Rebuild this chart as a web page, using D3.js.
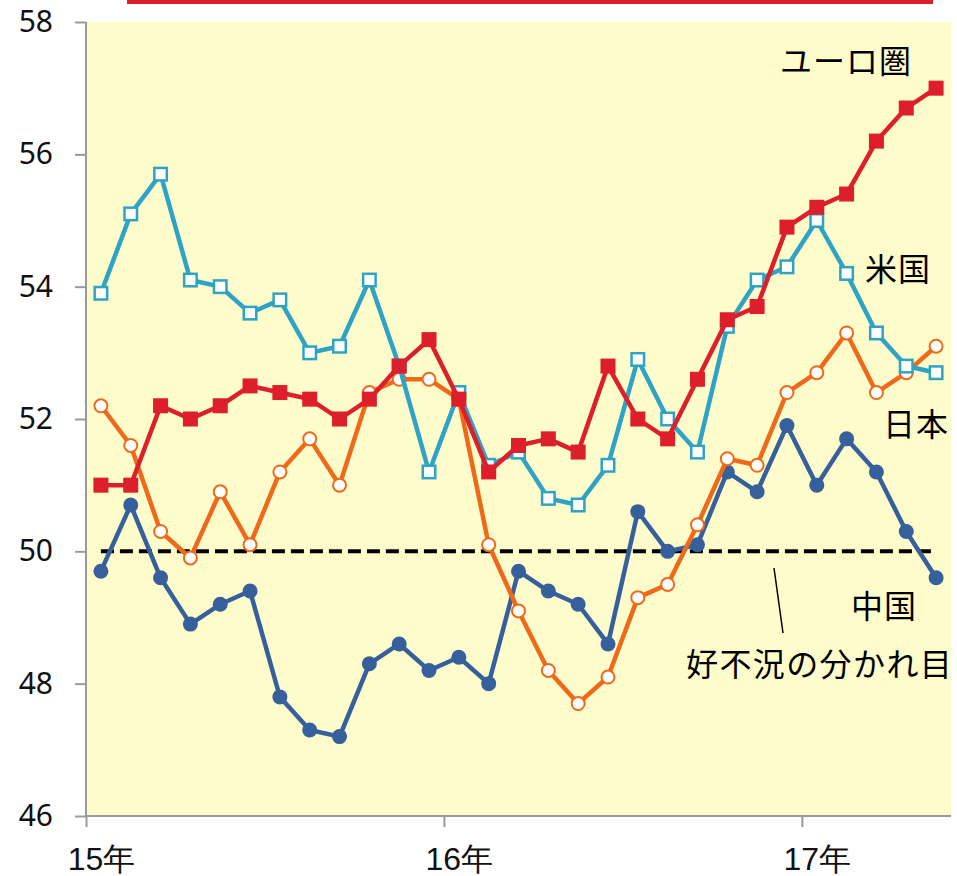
<!DOCTYPE html>
<html><head><meta charset="utf-8">
<script src="https://cdn.jsdelivr.net/npm/d3@7"></script>
<style>
body{margin:0;background:#fff;}
svg{display:block;font-family:"Noto Sans","Noto Sans CJK JP",sans-serif;}
</style></head>
<body>
<svg id="chart" width="957" height="876"></svg>
<script>
const months = ["15/1","15/2","15/3","15/4","15/5","15/6","15/7","15/8","15/9","15/10","15/11","15/12",
"16/1","16/2","16/3","16/4","16/5","16/6","16/7","16/8","16/9","16/10","16/11","16/12",
"17/1","17/2","17/3","17/4","17/5"];
const euro  = [51.0,51.0,52.2,52.0,52.2,52.5,52.4,52.3,52.0,52.3,52.8,53.2,52.3,51.2,51.6,51.7,51.5,52.8,52.0,51.7,52.6,53.5,53.7,54.9,55.2,55.4,56.2,56.7,57.0];
const usa   = [53.9,55.1,55.7,54.1,54.0,53.6,53.8,53.0,53.1,54.1,52.8,51.2,52.4,51.3,51.5,50.8,50.7,51.3,52.9,52.0,51.5,53.4,54.1,54.3,55.0,54.2,53.3,52.8,52.7];
const japan = [52.2,51.6,50.3,49.9,50.9,50.1,51.2,51.7,51.0,52.4,52.6,52.6,52.3,50.1,49.1,48.2,47.7,48.1,49.3,49.5,50.4,51.4,51.3,52.4,52.7,53.3,52.4,52.7,53.1];
const china = [49.7,50.7,49.6,48.9,49.2,49.4,47.8,47.3,47.2,48.3,48.6,48.2,48.4,48.0,49.7,49.4,49.2,48.6,50.6,50.0,50.1,51.2,50.9,51.9,51.0,51.7,51.2,50.3,49.6];
const yTicks = [46,48,50,52,54,56,58];
const yearTickIdx = [0,12,24];
const yearLabels = ["15年","16年","17年"];
const threshold = 50;
const seriesNames = ["ユーロ圏","米国","日本","中国"];
const thresholdLabel = "好不況の分かれ目";

const svg = d3.select("#chart");
const L = 86, T = 22, R = 951, B = 816;

const x = d3.scaleLinear().domain([0, months.length]).range([L, R]);
const bw = x(1) - x(0);
const xc = i => x(i + 0.5);
const y = d3.scaleLinear().domain([46, 58]).range([B, T]);

// top red bar
svg.append("rect").attr("x",127).attr("y",0).attr("width",806).attr("height",4).attr("fill","#dc1f2b");

// plot background
svg.append("rect").attr("x",L).attr("y",T).attr("width",R-L).attr("height",B-T).attr("fill","#fffccc");

// y axis
const yAxis = svg.append("g").attr("transform",`translate(${L},0)`)
  .call(d3.axisLeft(y).tickValues(yTicks).tickSize(11).tickPadding(22).tickFormat(d3.format("d")));
yAxis.select(".domain").attr("stroke","#9a9a9a").attr("stroke-width",2).attr("d",`M0,${T}V${B}`);
yAxis.selectAll(".tick line").attr("stroke","#9a9a9a").attr("stroke-width",2);
yAxis.selectAll(".tick text").attr("font-size",30).attr("fill","#111").attr("font-family","Noto Sans");

// x axis
const xAxis = svg.append("g").attr("transform",`translate(0,${B})`)
  .call(d3.axisBottom(x).tickValues(yearTickIdx).tickSize(11).tickPadding(20)
    .tickFormat((d,i)=>yearLabels[i]));
xAxis.select(".domain").attr("stroke","#9a9a9a").attr("stroke-width",2).attr("d",`M${L},0H${R}`);
xAxis.selectAll(".tick line").attr("stroke","#9a9a9a").attr("stroke-width",2);
xAxis.selectAll(".tick text").attr("font-size",32).attr("fill","#111").attr("x", bw/2);

// threshold dashed line
svg.append("line").attr("x1",xc(0)).attr("x2",xc(months.length-1))
  .attr("y1",y(threshold)).attr("y2",y(threshold))
  .attr("stroke","#000").attr("stroke-width",4).attr("stroke-dasharray","13,6");

const line = d3.line().x((d,i)=>xc(i)).y(d=>y(d));

function drawSeries(data, color, marker, filled){
  const g = svg.append("g");
  g.append("path").datum(data).attr("d",line).attr("fill","none")
    .attr("stroke",color).attr("stroke-width",4.5).attr("stroke-linejoin","round");
  if(marker==="square"){
    const s = filled ? 15 : 12.5;
    g.selectAll("rect").data(data).join("rect")
      .attr("x",(d,i)=>xc(i)-s/2).attr("y",d=>y(d)-s/2)
      .attr("width",s).attr("height",s)
      .attr("fill",filled?color:"#fff").attr("stroke",filled?"none":color).attr("stroke-width",2.5);
  } else {
    g.selectAll("circle").data(data).join("circle")
      .attr("cx",(d,i)=>xc(i)).attr("cy",d=>y(d))
      .attr("r",filled?7.5:6.5)
      .attr("fill",filled?color:"#fff").attr("stroke",filled?"none":color).attr("stroke-width",2);
  }
}
drawSeries(china, "#36609b", "circle", true);
drawSeries(japan, "#ee6a1a", "circle", false);
drawSeries(usa,   "#2fa3c5", "square", false);
drawSeries(euro,  "#dc1f2b", "square", true);

// labels
const labelPos = [[780,73],[865,281],[883,436],[851,618]];
seriesNames.forEach((n,i)=>{
  svg.append("text").attr("x",labelPos[i][0]).attr("y",labelPos[i][1])
    .attr("font-size",32).attr("letter-spacing",1).attr("fill","#000")
    .attr("font-family","Noto Sans CJK JP").text(n);
});
svg.append("text").attr("x",686).attr("y",676).attr("font-size",32).attr("letter-spacing",1.4)
  .attr("fill","#000").attr("font-family","Noto Sans CJK JP").text(thresholdLabel);
svg.append("line").attr("x1",774).attr("y1",568).attr("x2",783).attr("y2",633)
  .attr("stroke","#000").attr("stroke-width",1.5);
</script>
</body></html>
